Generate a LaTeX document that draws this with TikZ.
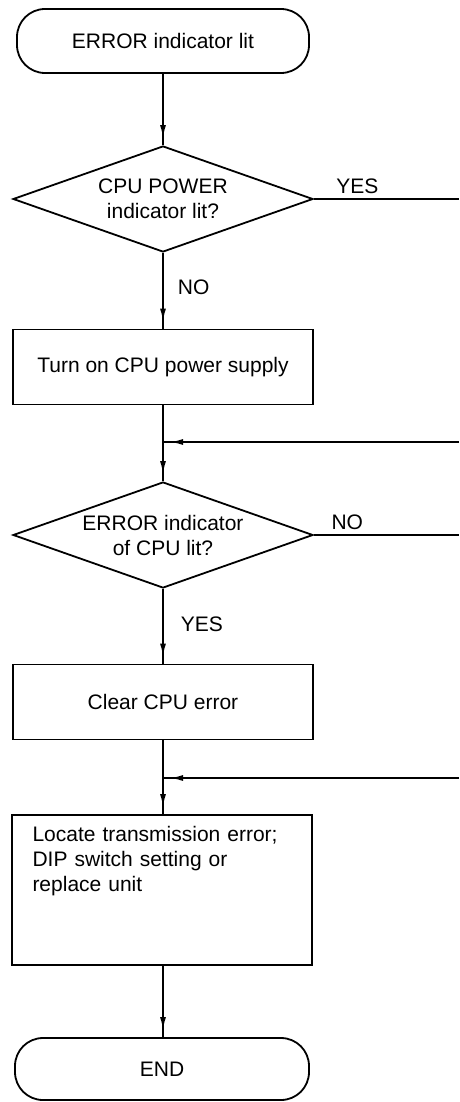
\documentclass[tikz,border=0pt]{standalone}
\usepackage{fontspec}
\setmainfont{Liberation Sans}
\usetikzlibrary{arrows.meta,shapes.geometric,decorations.markings}

\begin{document}
\begin{tikzpicture}[
    x=1pt, y=-1pt,
    font=\fontsize{21}{25}\selectfont,
    line width=1.8pt,
    term/.style={rectangle, draw, rounded corners=28pt, minimum width=292pt, minimum height=64pt},
    decision/.style={diamond, draw, aspect=2.8, inner sep=0pt, minimum width=300pt,
                     minimum height=106pt, align=center},
    process/.style={rectangle, draw, minimum width=300pt, minimum height=75pt, align=center},
    flow/.style={decoration={markings, mark=at position -7pt with {\arrow{Latex[length=13pt,width=6pt]}}},
                 postaction={decorate}},
    lbl/.style={inner sep=4pt}
]
\useasboundingbox (0,0) rectangle (459,1102);

% ---- Nodes (absolute positions, px) ----
\node[term]     (start)  at (163,41)   {ERROR indicator lit};
\node[decision] (cpupwr) at (163,199)  {CPU POWER\\indicator lit?};
\node[process]  (pwron)  at (163,367)  {Turn on CPU power supply};
\node[decision] (cpuerr) at (163,535)  {ERROR indicator\\of CPU lit?};
\node[process]  (clrerr) at (163,702)  {Clear CPU error};
\node[process, align=left, text width=259pt, inner xsep=20pt, inner ysep=4pt,
      text height=22pt, text depth=120pt, minimum height=0pt]
                (locate) at (162,890)  {Locate transmission error;\\DIP switch setting or\\replace unit};
\node[term, minimum width=294pt, minimum height=62pt]
                (finish) at (162,1069) {END};

% ---- Off-page ends and junctions ----
\coordinate (yesout) at (459,199);
\coordinate (noout)  at (459,535);
\coordinate (retA)   at (459,442);
\coordinate (joinA)  at (163,442);
\coordinate (retB)   at (459,778);
\coordinate (joinB)  at (163,778);

% ---- Main path ----
\draw[flow] (start) -- (cpupwr);
\draw (cpupwr.east) -- (yesout) node[lbl, above, pos=0.3] {YES};
\draw[flow] (cpupwr.south) -- (pwron.north) node[lbl, right=10pt, pos=0.45] {NO};
\draw (pwron.south) -- (joinA);
\draw[flow] (retA) -- (joinA);
\draw[flow] (joinA) -- (cpuerr.north);
\draw (cpuerr.east) -- (noout) node[lbl, above, pos=0.23] {NO};
\draw[flow] (cpuerr.south) -- (clrerr.north) node[lbl, right=13pt, pos=0.48] {YES};
\draw (clrerr.south) -- (joinB);
\draw[flow] (retB) -- (joinB);
\draw[flow] (joinB) -- (locate.north -| joinB);
\draw[flow] (locate.south -| joinB) -- (finish.north -| joinB);

\end{tikzpicture}
\end{document}
